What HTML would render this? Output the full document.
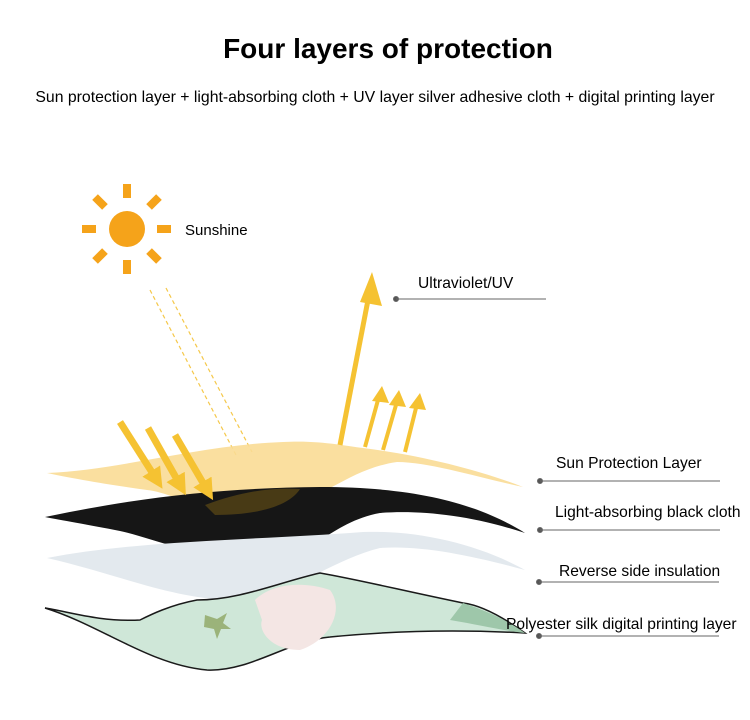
<!DOCTYPE html>
<html><head><meta charset="utf-8"><style>
html,body{margin:0;padding:0;background:#fff;}
svg{display:block;font-family:"Liberation Sans",Arial,sans-serif;}
</style></head><body>
<svg width="750" height="720" viewBox="0 0 750 720">
<defs>
<marker id="ah" markerWidth="3" markerHeight="3" refX="1" refY="1.5" orient="auto" markerUnits="strokeWidth"><path d="M0,0 L3,1.5 L0,3z" fill="#f5c232"/></marker>
</defs>
<text x="388" y="58" font-size="28" font-weight="bold" text-anchor="middle" fill="#000">Four layers of protection</text>
<text x="375" y="102" font-size="15.8" text-anchor="middle" fill="#000">Sun protection layer + light-absorbing cloth + UV layer silver adhesive cloth + digital printing layer</text>

<!-- sun -->
<g fill="#f5a31a">
<circle cx="127" cy="229" r="18"/>
<rect x="123" y="184" width="8" height="14"/>
<rect x="123" y="260" width="8" height="14"/>
<rect x="82" y="225" width="14" height="8"/>
<rect x="157" y="225" width="14" height="8"/>
<rect x="-4" y="-7" width="8" height="14" transform="translate(100,202) rotate(-45)"/>
<rect x="-4" y="-7" width="8" height="14" transform="translate(154,202) rotate(45)"/>
<rect x="-4" y="-7" width="8" height="14" transform="translate(100,256) rotate(45)"/>
<rect x="-4" y="-7" width="8" height="14" transform="translate(154,256) rotate(-45)"/>
</g>
<text x="185" y="235" font-size="15">Sunshine</text>

<!-- dashed rays -->
<line x1="150" y1="290" x2="236" y2="455" stroke="#f5c84a" stroke-width="1.2" stroke-dasharray="4,3"/>
<line x1="166" y1="288" x2="252" y2="452" stroke="#f5c84a" stroke-width="1.2" stroke-dasharray="4,3"/>

<!-- layers -->
<path d="M47,473 C120,470 200,445 283,442 C320,440 345,446 363,448 C420,455 480,470 523,487 C480,478 430,462 397,462 C340,470 310,515 247,513 C200,512 170,492 147,490 C110,485 70,478 47,473Z" fill="#f9dc95" opacity="0.9"/>
<path d="M45,517 C150,495 230,488 320,487 C420,487 480,505 525,533 C470,515 420,510 380,513 C330,522 310,560 263,560 C200,560 150,537 120,531 C90,525 60,520 45,517Z" fill="#161616"/>
<path d="M205,505 C240,492 270,487 300,489 C290,505 260,515 215,515Z" fill="#6b5315" opacity="0.6"/>
<path d="M47,558 C140,540 260,540 363,532 C420,530 480,545 525,570 C470,555 420,545 380,548 C330,560 290,598 230,600 C170,598 120,575 47,558Z" fill="#e3e9ee"/>
<path d="M45,608 C100,625 150,665 207,670 C250,672 290,640 330,637 C400,630 470,630 525,633 C500,615 480,605 463,603 C400,590 360,580 320,573 C280,582 240,600 197,600 C170,605 150,615 140,620 C100,622 70,612 45,608Z" fill="#cfe7d8" stroke="#1a1a1a" stroke-width="1.5"/>
<path d="M255,600 C270,585 300,580 330,590 C345,610 330,640 300,650 C270,650 258,630 262,620Z" fill="#f4e6e4"/>
<path d="M205,615 l12,4 l10,-6 l-4,10 l8,6 l-10,0 l-4,10 l-3,-10 l-10,-2z" fill="#9bb37a"/>
<path d="M463,603 C490,612 510,622 525,633 C500,630 480,625 450,620Z" fill="#9ec7aa"/>

<!-- down arrows -->
<g stroke="#f5c232" stroke-width="7" fill="none" marker-end="url(#ah)">
<line x1="120" y1="422" x2="155" y2="477"/>
<line x1="148" y1="428" x2="179" y2="483"/>
<line x1="175" y1="435" x2="206" y2="488"/>
</g>
<!-- up arrows -->
<g stroke="#f5c232" fill="none">
<line x1="340" y1="445" x2="368" y2="300" stroke-width="5"/>
<line x1="365" y1="447" x2="378" y2="400" stroke-width="4"/>
<line x1="383" y1="450" x2="396" y2="405" stroke-width="4"/>
<line x1="405" y1="452" x2="416" y2="408" stroke-width="4"/>
</g>
<g fill="#f5c232">
<path d="M372,272 L382,306 L360,302Z"/>
<path d="M382,386 L389,403 L372,401Z"/>
<path d="M399,390 L406,407 L389,405Z"/>
<path d="M420,393 L426,410 L409,408Z"/>
</g>

<!-- labels -->
<g fill="#555" stroke="#666" stroke-width="1">
<circle cx="396" cy="299" r="2.5"/><line x1="396" y1="299" x2="546" y2="299"/>
<circle cx="540" cy="481" r="2.5"/><line x1="540" y1="481" x2="720" y2="481"/>
<circle cx="540" cy="530" r="2.5"/><line x1="540" y1="530" x2="720" y2="530"/>
<circle cx="539" cy="582" r="2.5"/><line x1="539" y1="582" x2="719" y2="582"/>
<circle cx="539" cy="636" r="2.5"/><line x1="539" y1="636" x2="719" y2="636"/>
</g>
<g font-size="15.6" fill="#000">
<text x="418" y="288">Ultraviolet/UV</text>
<text x="556" y="468">Sun Protection Layer</text>
<text x="555" y="517">Light-absorbing black cloth</text>
<text x="559" y="576">Reverse side insulation</text>
<text x="506" y="629">Polyester silk digital printing layer</text>
</g>
</svg>
</body></html>
